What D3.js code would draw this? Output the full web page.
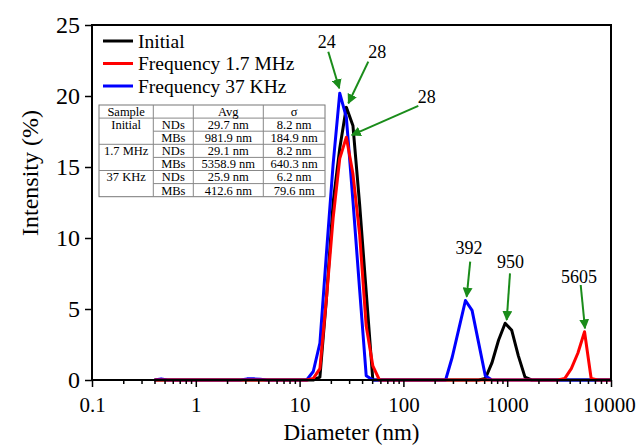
<!DOCTYPE html>
<html>
<head>
<meta charset="utf-8">
<script src="https://cdn.jsdelivr.net/npm/d3@7"></script>
<style>
    body { margin: 0; background: #fff; }
</style>
</head>
<body>
<div id="chart"></div>
<script>
// DLS size bins (nm)
const diameters = [
    0.4, 0.4632, 0.5365, 0.6213, 0.7195, 0.8332, 0.9649, 1.117, 1.294, 1.499,
    1.736, 2.01, 2.328, 2.696, 3.122, 3.615, 4.187, 4.849, 5.615, 6.503,
    7.531, 8.721, 10.1, 11.7, 13.54, 15.69, 18.17, 21.04, 24.36, 28.21,
    32.67, 37.84, 43.82, 50.75, 58.77, 68.06, 78.82, 91.28, 105.7, 122.4,
    141.8, 164.2, 190.1, 220.2, 255.0, 295.3, 342.0, 396.1, 458.7, 531.2,
    615.1, 712.4, 825.0, 955.4, 1106, 1281, 1484, 1718, 1990, 2305,
    2669, 3091, 3580, 4145, 4801, 5560, 6439, 7456, 8635, 10000
];

// intensity (%) per bin
const initial = [
    0, 0, 0, 0, 0, 0, 0, 0, 0, 0,
    0, 0, 0, 0, 0, 0, 0, 0, 0, 0,
    0, 0, 0, 0, 0, 0.2, 5.8, 12.5, 16.3, 19.2,
    17.9, 12.4, 6.2, 0, 0, 0, 0, 0, 0, 0,
    0, 0, 0, 0, 0, 0, 0, 0, 0, 0,
    0.1, 1.2, 2.8, 4.0, 3.5, 1.7, 0.2, 0, 0, 0,
    0, 0, 0, 0, 0, 0, 0, 0, 0, 0
];
const freq17MHz = [
    0, 0, 0, 0, 0, 0, 0, 0, 0, 0,
    0, 0, 0, 0, 0, 0, 0, 0, 0, 0,
    0, 0, 0, 0, 0.1, 0.8, 5.8, 11.4, 15.6, 17.1,
    14.5, 10.3, 3.8, 1.0, 0, 0, 0, 0, 0, 0,
    0, 0, 0, 0, 0, 0, 0, 0, 0, 0,
    0, 0, 0, 0, 0, 0, 0, 0, 0, 0,
    0, 0, 0.1, 0.8, 1.9, 3.4, 0.1, 0, 0, 0
];
const freq37KHz = [
    0, 0.08, 0, 0, 0, 0, 0, 0, 0, 0,
    0, 0, 0, 0, 0.08, 0.08, 0.05, 0, 0, 0,
    0, 0, 0, 0, 0.6, 2.6, 9.0, 15.2, 20.2, 18.5,
    12.6, 6.4, 0.3, 0, 0, 0, 0, 0, 0, 0,
    0, 0, 0, 0, 0, 1.6, 3.6, 5.6, 4.9, 2.6,
    0.3, 0, 0, 0, 0, 0, 0, 0, 0, 0,
    0, 0, 0, 0, 0, 0, 0, 0, 0, 0
];

const seriesNames = ['Initial', 'Frequency 1.7 MHz', 'Frequency 37 KHz'];
const seriesColors = ['#000000', '#ff0000', '#0000ff'];
const seriesValues = [initial, freq17MHz, freq37KHz];

const xMajorTicks = [0.1, 1, 10, 100, 1000, 10000];
const yTicks = [0, 5, 10, 15, 20, 25];

// inset table
const tableHeader = ['Sample', '', 'Avg', 'σ'];
const tableRows = [
    ['Initial', 'NDs', '29.7 nm', '8.2 nm'],
    ['', 'MBs', '981.9 nm', '184.9 nm'],
    ['1.7 MHz', 'NDs', '29.1 nm', '8.2 nm'],
    ['', 'MBs', '5358.9 nm', '640.3 nm'],
    ['37 KHz', 'NDs', '25.9 nm', '6.2 nm'],
    ['', 'MBs', '412.6 nm', '79.6 nm']
];

// peak annotations: label, label anchor, arrow start, arrow tip (diameter, intensity)
const peakLabels = ['24', '28', '28', '392', '950', '5605'];
const labelAt = [[18.24, 23.38], [56.1, 22.68], [167.7, 19.5], [428, 8.87], [1076, 7.87], [4917, 6.81]];
const arrowFrom = [[18.9, 23.12], [45.9, 22.42], [139.2, 19.3], [440, 8.33], [1064, 7.51], [5105, 6.69]];
const arrowTo = [[24.1, 20.54], [29.5, 19.49], [31.8, 17.25], [407, 5.87], [989, 4.23], [5617, 3.64]];

const serif = '"Liberation Serif", "Times New Roman", serif';
const width = 636, height = 445;
const margin = { top: 25, right: 25, bottom: 65, left: 92 };

const svg = d3.select('#chart').append('svg')
    .attr('width', width)
    .attr('height', height);

const x = d3.scaleLog().domain([0.1, 10000]).range([margin.left, width - margin.right]);
const y = d3.scaleLinear().domain([0, 25]).range([height - margin.bottom, margin.top]);

svg.append('defs').append('marker')
    .attr('id', 'arrow')
    .attr('markerUnits', 'userSpaceOnUse')
    .attr('markerWidth', 10)
    .attr('markerHeight', 10)
    .attr('viewBox', '0 0 10 10')
    .attr('refX', 9)
    .attr('refY', 5)
    .attr('orient', 'auto')
    .append('path')
    .attr('d', 'M0,0 L10,5 L0,10 Z')
    .attr('fill', '#1a8c1a');

// curves (black under blue under red, as in the original)
const line = d3.line()
    .x((d, i) => x(diameters[i]))
    .y(d => y(d));

[0, 2, 1].forEach(k => {
    svg.append('path')
        .datum(seriesValues[k])
        .attr('fill', 'none')
        .attr('stroke', seriesColors[k])
        .attr('stroke-width', 3)
        .attr('stroke-linejoin', 'round')
        .attr('d', line);
});

// axes
const xMinor = [];
xMajorTicks.slice(0, -1).forEach(t => {
    for (let k = 2; k <= 9; k++) xMinor.push(t * k);
});

const xAxisY = height - margin.bottom;
svg.append('g')
    .attr('transform', `translate(0,${xAxisY})`)
    .call(d3.axisBottom(x).tickValues(xMinor).tickSize(4).tickFormat(''))
    .call(g => g.select('.domain').remove());

svg.append('g')
    .attr('transform', `translate(0,${xAxisY})`)
    .call(d3.axisBottom(x).tickValues(xMajorTicks).tickSize(7).tickPadding(10).tickFormat(d => String(d)))
    .call(g => g.select('.domain').remove())
    .call(g => g.selectAll('text').style('font-family', serif).style('font-size', '21px').attr('fill', '#000'))
    .call(g => g.selectAll('text').filter(d => d === 10000).attr('dx', -2));

svg.append('g')
    .attr('transform', `translate(${margin.left},0)`)
    .call(d3.axisLeft(y).tickValues(yTicks).tickSize(7).tickPadding(5))
    .call(g => g.select('.domain').remove())
    .call(g => g.selectAll('text').style('font-family', serif).style('font-size', '24px').attr('fill', '#000'));

svg.selectAll('.tick line').attr('stroke', '#000').attr('stroke-width', 1.5);

// frame
svg.append('rect')
    .attr('x', margin.left)
    .attr('y', margin.top)
    .attr('width', width - margin.right - margin.left)
    .attr('height', height - margin.bottom - margin.top)
    .attr('fill', 'none')
    .attr('stroke', '#000')
    .attr('stroke-width', 2);

// axis titles
svg.append('text')
    .attr('transform', 'translate(30,173) rotate(-90)')
    .attr('text-anchor', 'middle')
    .attr('dy', '0.35em')
    .style('font-family', serif)
    .style('font-size', '24px')
    .text('Intensity (%)');

svg.append('text')
    .attr('x', (margin.left + width - margin.right) / 2)
    .attr('y', 440)
    .attr('text-anchor', 'middle')
    .style('font-family', serif)
    .style('font-size', '23px')
    .text('Diameter (nm)');

// legend
const legend = svg.append('g').attr('transform', 'translate(103,41)');
seriesNames.forEach((name, i) => {
    const row = legend.append('g').attr('transform', `translate(0,${i * 22.5})`);
    row.append('line')
        .attr('x1', 0).attr('x2', 30)
        .attr('stroke', seriesColors[i])
        .attr('stroke-width', 3);
    row.append('text')
        .attr('x', 35)
        .attr('dy', '0.35em')
        .style('font-family', serif)
        .style('font-size', '19.5px')
        .text(name);
});

// inset table
const colX = [99, 153.3, 193.3, 263.3, 325];
const rowH = 13.1;
const tableTop = 105;
const nRows = tableRows.length + 1;
const table = svg.append('g');

table.append('rect')
    .attr('x', colX[0])
    .attr('y', tableTop)
    .attr('width', colX[4] - colX[0])
    .attr('height', rowH * nRows)
    .attr('fill', '#fff')
    .attr('stroke', '#777')
    .attr('stroke-width', 1);

for (let r = 1; r < nRows; r++) {
    // second row of each sample group leaves the first column open
    const partial = r % 2 === 0;
    table.append('line')
        .attr('x1', partial ? colX[1] : colX[0])
        .attr('x2', colX[4])
        .attr('y1', tableTop + r * rowH)
        .attr('y2', tableTop + r * rowH)
        .attr('stroke', '#888');
}
colX.slice(1, 4).forEach(cx => {
    table.append('line')
        .attr('x1', cx).attr('x2', cx)
        .attr('y1', tableTop)
        .attr('y2', tableTop + rowH * nRows)
        .attr('stroke', '#888');
});

[tableHeader].concat(tableRows).forEach((row, r) => {
    row.forEach((cell, c) => {
        table.append('text')
            .attr('x', (colX[c] + colX[c + 1]) / 2)
            .attr('y', tableTop + r * rowH + rowH / 2)
            .attr('dy', '0.35em')
            .attr('text-anchor', 'middle')
            .style('font-family', serif)
            .style('font-size', '12.5px')
            .text(cell);
    });
});

// peak annotations
peakLabels.forEach((label, i) => {
    svg.append('line')
        .attr('x1', x(arrowFrom[i][0]))
        .attr('y1', y(arrowFrom[i][1]))
        .attr('x2', x(arrowTo[i][0]))
        .attr('y2', y(arrowTo[i][1]))
        .attr('stroke', '#1a8c1a')
        .attr('stroke-width', 2)
        .attr('marker-end', 'url(#arrow)');
    svg.append('text')
        .attr('x', x(labelAt[i][0]))
        .attr('y', y(labelAt[i][1]))
        .attr('text-anchor', 'middle')
        .style('font-family', serif)
        .style('font-size', '18px')
        .text(label);
});
</script>
</body>
</html>
